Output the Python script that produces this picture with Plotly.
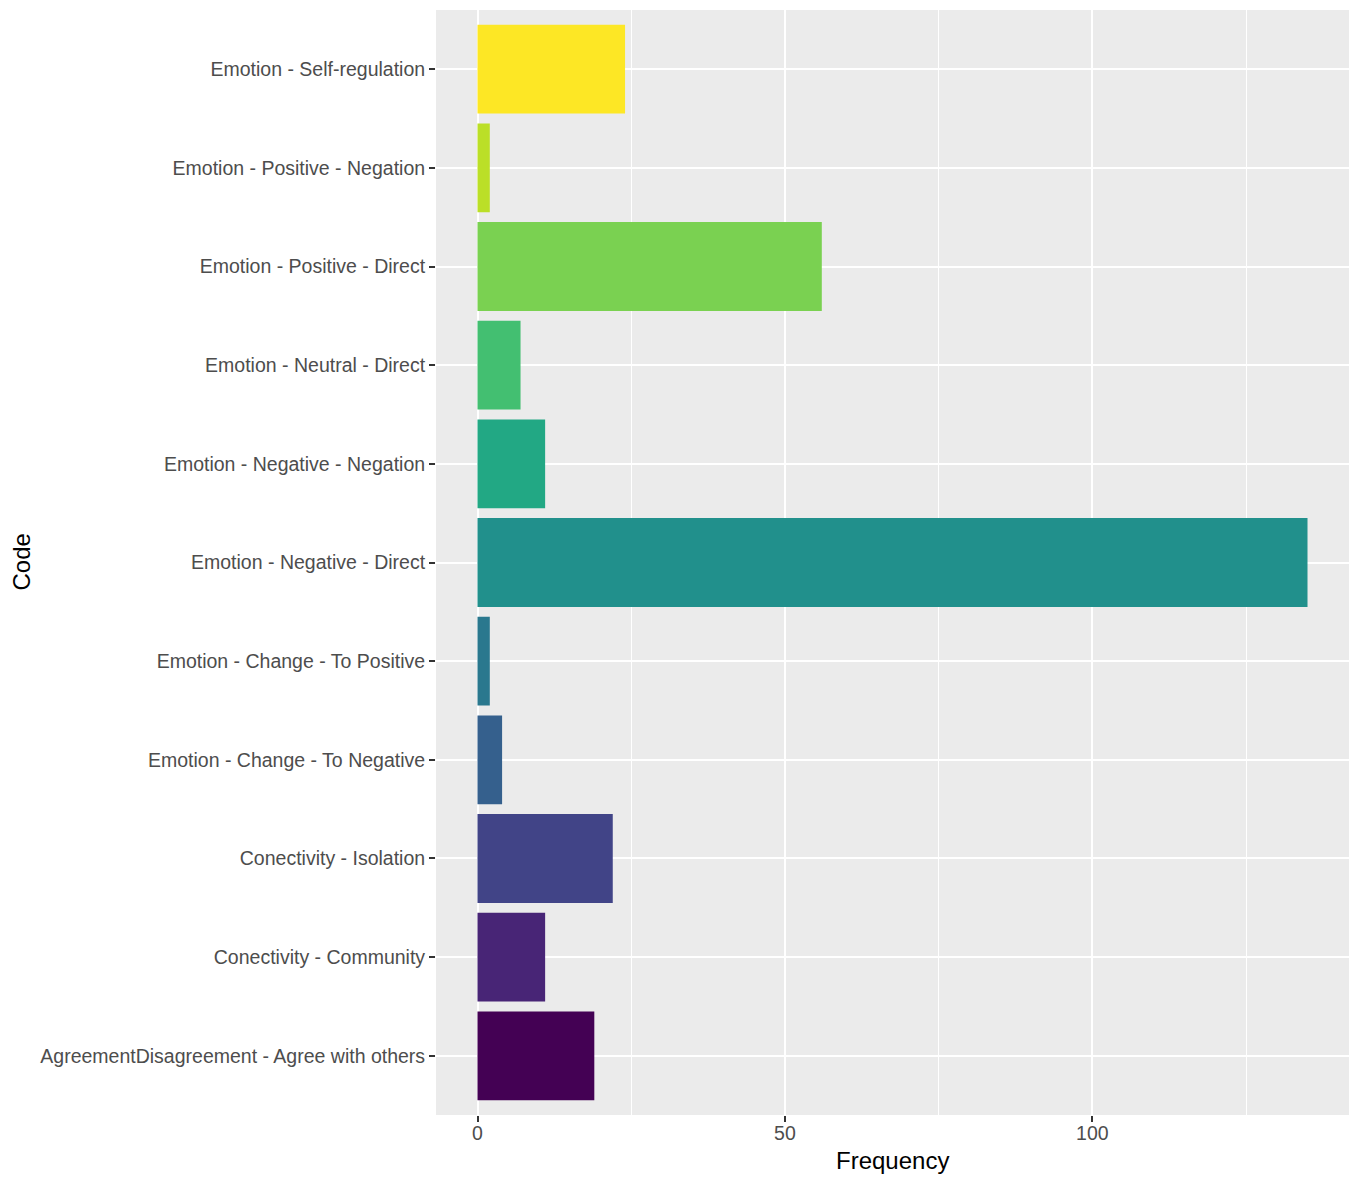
import plotly.graph_objects as go

# Codes listed bottom to top, as in the reference
codes = [
    "AgreementDisagreement - Agree with others",
    "Conectivity - Community",
    "Conectivity - Isolation",
    "Emotion - Change - To Negative",
    "Emotion - Change - To Positive",
    "Emotion - Negative - Direct",
    "Emotion - Negative - Negation",
    "Emotion - Neutral - Direct",
    "Emotion - Positive - Direct",
    "Emotion - Positive - Negation",
    "Emotion - Self-regulation",
]
frequency = [19, 11, 22, 4, 2, 135, 11, 7, 56, 2, 24]

# viridis, 11 levels
colors = ["#440154", "#482576", "#414487", "#35608D", "#2A788E", "#21908C",
          "#22A884", "#43BF71", "#7AD151", "#BBDF27", "#FDE725"]

x_ticks = [0, 50, 100]

fig = go.Figure()
fig.add_trace(go.Bar(
    x=frequency, y=codes, orientation="h",
    marker=dict(color=colors, line=dict(width=0)),
    width=0.9, showlegend=False,
))

# page body has an 8px margin, so the figure is a bit smaller than the window
fig.update_layout(
    width=1350, height=1174,
    paper_bgcolor="white", plot_bgcolor="#EBEBEB",
    font=dict(family="Liberation Sans, Arial, sans-serif", color="#4D4D4D"),
    margin=dict(l=428, r=9, t=2, b=67, autoexpand=False),
    bargap=0.1,
    xaxis=dict(
        range=[-6.75, 141.75], tickvals=x_ticks, ticktext=[str(v) for v in x_ticks],
        showgrid=True, gridcolor="white", gridwidth=2.2, zeroline=False,
        ticks="outside", ticklen=6, tickwidth=2, tickcolor="#333333",
        tickfont=dict(size=19.5, color="#4D4D4D"), ticklabelstandoff=-5,
        minor=dict(tickvals=[25, 75, 125], showgrid=True, gridcolor="white", gridwidth=1.1, ticks=""),
        showline=False, automargin=False,
    ),
    yaxis=dict(
        type="category", categoryorder="array", categoryarray=codes,
        range=[-0.6, 10.6],
        showgrid=True, gridcolor="white", gridwidth=2.2, zeroline=False,
        ticks="outside", ticklen=6, tickwidth=2, tickcolor="#333333",
        tickfont=dict(size=19.5, color="#4D4D4D"),
        showline=False, automargin=False,
    ),
    annotations=[
        dict(text="Frequency", xref="paper", yref="paper", x=0.5, y=0, yshift=-45,
             showarrow=False, font=dict(size=24, color="black"), xanchor="center", yanchor="middle"),
        dict(text="Code", xref="paper", yref="paper", x=0, y=0.5, xshift=-415,
             showarrow=False, textangle=-90, font=dict(size=24, color="black"),
             xanchor="center", yanchor="middle"),
    ],
)

fig.write_html("out.html")
